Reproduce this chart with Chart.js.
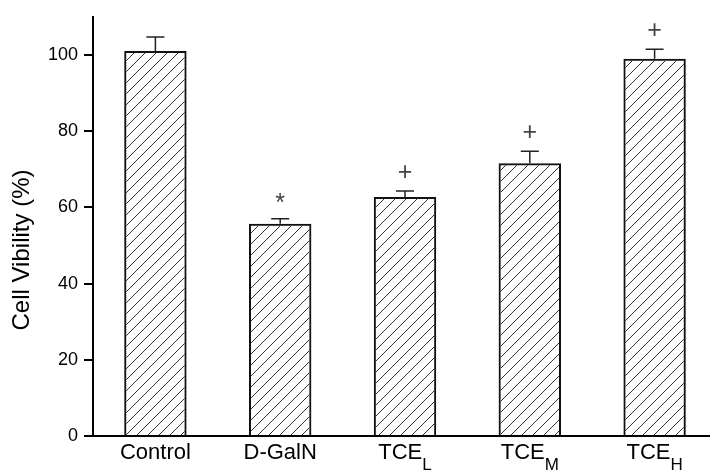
<!DOCTYPE html>
<html>
<head>
<meta charset="utf-8">
<script src="https://cdn.jsdelivr.net/npm/chart.js@4"></script>
<style>
  html, body { margin: 0; padding: 0; background: #fff; overflow: hidden; }
  canvas { display: block; }
</style>
</head>
<body>
<canvas id="myChart" width="720" height="470"></canvas>
<script>
// chart values
var categories = ['Control', 'D-GalN', 'TCE', 'TCE', 'TCE'];
var subscripts = ['', '', 'L', 'M', 'H'];
var viability = [101, 55.7, 62.7, 71.6, 99];
var errorUp = [3.7, 1.3, 1.6, 3.1, 2.5];
var markers = ['', '*', '+', '+', '+'];
var yTicks = [0, 20, 40, 60, 80, 100];
var yMax = 110;
var yTitle = 'Cell Vibility (%)';

var FONT = '"Liberation Sans", Arial, sans-serif';

// diagonal hatch for the bars
function makeHatch() {
    var n = 11;
    var c = document.createElement('canvas');
    c.width = n;
    c.height = n;
    var g = c.getContext('2d');
    g.strokeStyle = '#333';
    g.lineWidth = 1;
    g.beginPath();
    g.moveTo(0, n); g.lineTo(n, 0);
    g.moveTo(-1, 1); g.lineTo(1, -1);
    g.moveTo(n - 1, n + 1); g.lineTo(n + 1, n - 1);
    g.stroke();
    return g.createPattern(c, 'repeat');
}

var extras = {
    id: 'extras',
    afterDatasetsDraw: function (chart) {
        var ctx = chart.ctx;
        var y = chart.scales.y;
        var meta = chart.getDatasetMeta(0);
        ctx.save();
        for (var i = 0; i < viability.length; i++) {
            var bar = meta.data[i];
            var top = y.getPixelForValue(viability[i]);
            var errTop = y.getPixelForValue(viability[i] + errorUp[i]);
            // error bar (upper only)
            ctx.strokeStyle = '#222';
            ctx.lineWidth = 1.5;
            ctx.beginPath();
            ctx.moveTo(bar.x, top);
            ctx.lineTo(bar.x, errTop);
            ctx.moveTo(bar.x - 9, errTop);
            ctx.lineTo(bar.x + 9, errTop);
            ctx.stroke();
            // significance mark
            if (markers[i]) {
                ctx.fillStyle = '#444';
                ctx.font = '25px ' + FONT;
                ctx.textAlign = 'center';
                ctx.textBaseline = 'middle';
                var off = markers[i] == '*' ? 15 : 18;
                ctx.fillText(markers[i], bar.x, errTop - off);
            }
        }
        ctx.restore();
    },
    afterDraw: function (chart) {
        var ctx = chart.ctx;
        var x = chart.scales.x;
        ctx.save();
        ctx.fillStyle = '#000';
        ctx.textBaseline = 'alphabetic';
        ctx.textAlign = 'left';
        // category labels with subscripts
        for (var i = 0; i < categories.length; i++) {
            var cx = x.getPixelForValue(i);
            ctx.font = '22px ' + FONT;
            var w1 = ctx.measureText(categories[i]).width;
            ctx.font = '17px ' + FONT;
            var w2 = subscripts[i] ? ctx.measureText(subscripts[i]).width : 0;
            var sx = cx - (w1 + w2) / 2;
            ctx.font = '22px ' + FONT;
            ctx.fillText(categories[i], sx, 459);
            if (subscripts[i]) {
                ctx.font = '17px ' + FONT;
                ctx.fillText(subscripts[i], sx + w1, 470);
            }
        }
        // y axis title
        ctx.translate(29, 250);
        ctx.rotate(-Math.PI / 2);
        ctx.font = '24px ' + FONT;
        ctx.textAlign = 'center';
        ctx.fillText(yTitle, 0, 0);
        ctx.restore();
    }
};

window.onload = function () {
    var ctx = document.getElementById('myChart');
    window.myBar = new Chart(ctx, {
        type: 'bar',
        data: {
            labels: categories,
            datasets: [{
                data: viability,
                backgroundColor: makeHatch(),
                borderColor: '#111',
                borderWidth: 2,
                barPercentage: 0.5,
                categoryPercentage: 1
            }]
        },
        options: {
            responsive: false,
            animation: false,
            devicePixelRatio: 1,
            layout: { padding: { left: 0, top: 14, right: 3, bottom: 0 } },
            plugins: {
                legend: { display: false },
                tooltip: { enabled: false }
            },
            scales: {
                x: {
                    grid: { display: false },
                    border: { display: true, color: '#000', width: 2 },
                    ticks: { display: false },
                    afterFit: function (s) { s.height = 34; }
                },
                y: {
                    min: 0,
                    max: yMax,
                    afterBuildTicks: function (s) {
                        s.ticks = yTicks.map(function (v) { return { value: v }; });
                    },
                    grid: {
                        drawOnChartArea: false,
                        drawTicks: true,
                        tickLength: 9,
                        color: '#000',
                        lineWidth: 2
                    },
                    border: { display: true, color: '#000', width: 2 },
                    ticks: {
                        padding: 6,
                        color: '#000',
                        font: { family: FONT, size: 18 }
                    },
                    afterFit: function (s) { s.width = 93; }
                }
            }
        },
        plugins: [extras]
    });
};
</script>
</body>
</html>
